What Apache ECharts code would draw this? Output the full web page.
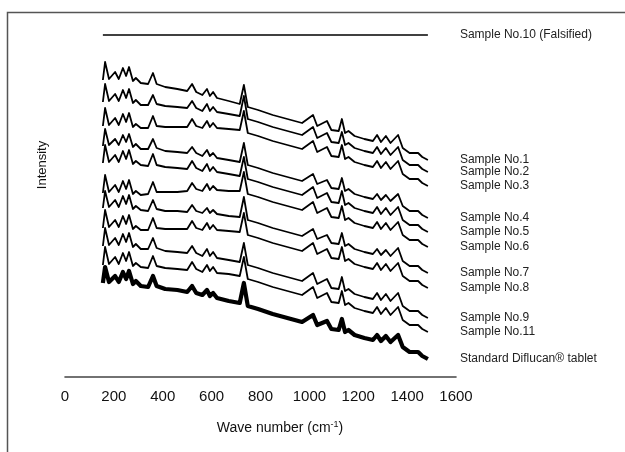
<!DOCTYPE html>
<html>
<head>
<meta charset="utf-8">
<script src="https://cdn.jsdelivr.net/npm/echarts@6/dist/echarts.min.js"></script>
<style>
  html, body { margin: 0; padding: 0; background: #fff; }
  #chart { width: 625px; height: 452px; }
</style>
</head>
<body>
<div id="chart"></div>
<script>
// wave numbers (cm-1) shared by all spectra
const waveNumbers = [155, 164, 180, 205, 220, 237, 250, 262, 278, 290, 310, 340, 360, 375, 410, 460, 500, 520, 537, 562,
  581, 593, 606, 622, 670, 715, 732, 748, 790, 850, 910, 970, 1015, 1032, 1072, 1090, 1120, 1133, 1146, 1160,
  1185, 1225, 1260, 1277, 1293, 1313, 1332, 1363, 1382, 1410, 1445, 1462, 1485];

// intensities (arbitrary units, stacked)
const sample10 = [[155, 342], [1485, 342]];
const sample1 = [297, 315, 298, 305, 298, 309, 301, 310, 296, 299, 294, 293, 304, 293, 290, 288, 286, 293, 285, 282,
  288, 281, 285, 279, 276, 273, 292, 270, 267, 262, 258, 254, 262, 251, 256, 247, 246, 258, 244, 246,
  241, 238, 236, 242, 235, 241, 234, 242, 229, 224, 224, 220, 217];
const sample2 = [275, 293, 276, 283, 276, 287, 279, 288, 274, 277, 272, 272, 282, 273, 271, 270, 269, 276, 269, 266,
  273, 266, 270, 265, 263, 261, 281, 258, 255, 250, 246, 242, 250, 239, 244, 235, 234, 245, 232, 234,
  229, 226, 224, 230, 223, 229, 222, 230, 217, 212, 212, 208, 205];
const sample3 = [251, 269, 252, 259, 252, 263, 255, 264, 250, 253, 249, 249, 261, 251, 250, 250, 250, 258, 251, 249,
  256, 250, 254, 249, 248, 247, 266, 244, 241, 236, 232, 228, 236, 225, 230, 221, 220, 232, 218, 220,
  215, 212, 210, 216, 209, 215, 208, 216, 203, 198, 198, 194, 191];
const sample4 = [231, 248, 232, 238, 232, 242, 235, 243, 230, 233, 228, 228, 238, 229, 226, 225, 224, 230, 224, 221,
  227, 221, 224, 219, 217, 215, 234, 212, 209, 204, 200, 196, 203, 193, 197, 189, 188, 199, 186, 188,
  183, 180, 178, 183, 177, 182, 176, 183, 171, 166, 166, 162, 159];
const sample5 = [214, 232, 215, 222, 215, 226, 218, 227, 213, 216, 212, 211, 223, 212, 210, 209, 208, 216, 209, 206,
  213, 206, 210, 205, 203, 201, 220, 198, 195, 190, 186, 182, 190, 179, 184, 175, 174, 186, 172, 174,
  169, 166, 164, 170, 163, 169, 162, 170, 157, 152, 152, 148, 145];
const sample6 = [184, 202, 185, 192, 185, 196, 188, 197, 183, 186, 182, 183, 195, 185, 185, 185, 186, 194, 188, 186,
  193, 187, 191, 187, 186, 186, 205, 183, 180, 175, 171, 167, 175, 164, 169, 160, 159, 171, 157, 159,
  154, 151, 149, 155, 148, 154, 147, 155, 142, 137, 137, 133, 130];
const sample7 = [169, 186, 170, 177, 170, 181, 173, 182, 168, 171, 167, 166, 177, 168, 166, 166, 165, 172, 166, 164,
  169, 164, 167, 163, 161, 160, 180, 157, 154, 149, 145, 141, 148, 138, 142, 134, 133, 144, 131, 133,
  128, 125, 123, 128, 122, 127, 121, 129, 116, 111, 111, 107, 104];
const sample8 = [149, 167, 150, 157, 150, 161, 153, 162, 148, 151, 147, 147, 159, 149, 148, 148, 148, 156, 149, 147,
  154, 148, 152, 147, 146, 145, 164, 142, 139, 134, 130, 126, 134, 123, 128, 119, 118, 130, 116, 118,
  113, 110, 108, 114, 107, 113, 106, 114, 101, 96, 96, 92, 89];
const sample9 = [131, 149, 132, 139, 132, 143, 135, 144, 130, 133, 128, 128, 139, 129, 126, 125, 124, 131, 124, 121,
  128, 121, 125, 119, 117, 115, 134, 112, 109, 104, 100, 96, 104, 93, 98, 89, 88, 100, 86, 88,
  83, 80, 78, 84, 77, 83, 76, 84, 71, 66, 66, 62, 59];
const sample11 = [112, 130, 113, 120, 113, 124, 116, 125, 111, 114, 110, 109, 121, 111, 109, 108, 107, 115, 108, 105,
  112, 106, 110, 104, 103, 101, 120, 98, 95, 90, 86, 82, 90, 79, 84, 75, 74, 86, 72, 74,
  69, 66, 64, 70, 63, 69, 62, 70, 57, 52, 52, 48, 45];
const standard = [94, 110, 95, 101, 95, 105, 98, 106, 93, 96, 91, 90, 101, 91, 88, 87, 85, 91, 84, 82,
  87, 81, 84, 79, 76, 74, 94, 71, 68, 63, 59, 55, 62, 52, 56, 48, 47, 58, 45, 47,
  42, 39, 37, 42, 36, 41, 35, 42, 30, 25, 25, 21, 18];

const spectra = [
  ['Sample No.1', sample1],
  ['Sample No.2', sample2],
  ['Sample No.3', sample3],
  ['Sample No.4', sample4],
  ['Sample No.5', sample5],
  ['Sample No.6', sample6],
  ['Sample No.7', sample7],
  ['Sample No.8', sample8],
  ['Sample No.9', sample9],
  ['Sample No.11', sample11],
  ['Standard Diflucan® tablet', standard]
];

const xTicks = [0, 200, 400, 600, 800, 1000, 1200, 1400, 1600];

const font = 'Liberation Sans, Arial, sans-serif';

function pairs(values) {
  return values.map((v, i) => [waveNumbers[i], v]);
}

function makeSeries(name, data, width) {
  return {
    name: name,
    type: 'line',
    data: data,
    symbol: 'none',
    silent: true,
    clip: false,
    lineStyle: { color: '#000', width: width, join: 'round' },
    endLabel: {
      show: true,
      formatter: name,
      distance: 32,
      color: '#222',
      fontSize: 12,
      fontFamily: font
    }
  };
}

let series = [makeSeries('Sample No.10 (Falsified)', sample10, 1.5)];
spectra.forEach(s => {
  series.push(makeSeries(s[0], pairs(s[1]), s[0].indexOf('Standard') === 0 ? 4.2 : 1.8));
});

let option = {
  animation: false,
  backgroundColor: '#fff',
  grid: {
    left: 65,
    right: 169,
    top: 27,
    bottom: 75
  },
  xAxis: {
    type: 'value',
    min: xTicks[0],
    max: xTicks[xTicks.length - 1],
    interval: 200,
    axisLine: { lineStyle: { color: '#444', width: 1.6 } },
    axisTick: { show: false },
    splitLine: { show: false },
    axisLabel: {
      color: '#111',
      fontSize: 15,
      fontFamily: font,
      margin: 12,
      formatter: v => String(v)
    }
  },
  yAxis: {
    type: 'value',
    min: 0,
    max: 350,
    show: false
  },
  graphic: [
    {
      type: 'rect',
      shape: { x: 7.5, y: 12.5, width: 700, height: 500 },
      style: { fill: 'none', stroke: '#555', lineWidth: 1.5 },
      silent: true
    },
    {
      type: 'text',
      x: 42,
      y: 165,
      rotation: Math.PI / 2,
      style: {
        text: 'Intensity',
        fill: '#111',
        fontSize: 13,
        fontFamily: font,
        align: 'center',
        verticalAlign: 'middle'
      }
    },
    {
      type: 'text',
      x: 280,
      y: 428,
      style: {
        text: 'Wave number (cm{sup|-1})',
        fill: '#111',
        fontSize: 14,
        fontFamily: font,
        align: 'center',
        verticalAlign: 'middle',
        rich: {
          sup: { fontSize: 9, fill: '#111', fontFamily: font, padding: [0, 0, 7, 0] }
        }
      }
    }
  ],
  series: series
};

let chart = echarts.init(document.getElementById('chart'), null, { renderer: 'canvas' });
chart.setOption(option);
</script>
</body>
</html>
